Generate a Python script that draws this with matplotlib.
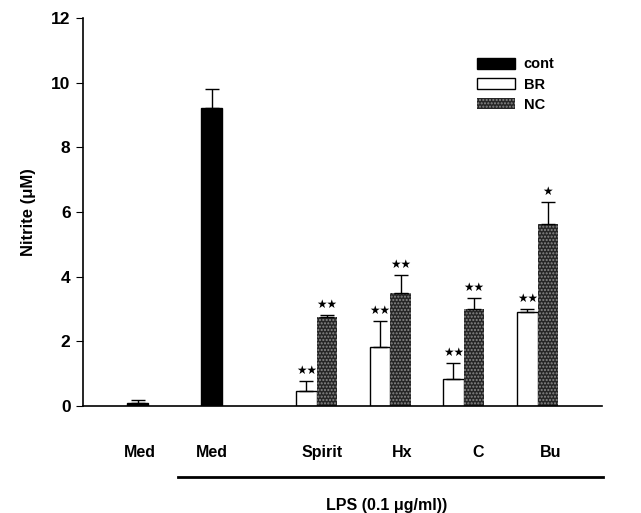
# Nitrite production: cont / BR / NC bars with upper error bars
import numpy as np
import matplotlib.pyplot as plt

plt.rcParams['font.family'] = ['Liberation Sans', 'DejaVu Sans']
plt.rcParams['font.weight'] = 'bold'
plt.rcParams['axes.labelweight'] = 'bold'

# Datos
groups = ['Med', 'Med', 'Spirit', 'Hx', 'C', 'Bu']
cont_vals = [0.1, 9.2]
cont_err = [0.1, 0.6]
br_vals = [0.45, 1.83, 0.83, 2.92]
br_err = [0.32, 0.80, 0.50, 0.08]
nc_vals = [2.75, 3.48, 2.99, 5.63]
nc_err = [0.06, 0.57, 0.36, 0.67]
br_sig = ['**', '**', '**', '**']
nc_sig = ['**', '**', '**', '*']

# posiciones de grupos (1 unidad ~ separacion entre grupos)
pos = np.array([0, 1, 2.42, 3.42, 4.41, 5.41])
w = 0.28

fig = plt.figure(figsize=(6.41, 5.13), dpi=100)
ax = fig.add_axes([0.1295, 0.2086, 0.8095, 0.7564])

ek = dict(capsize=5, elinewidth=1, capthick=1, ecolor='black')

ax.bar(pos[:2], cont_vals, w, color='black', edgecolor='black', label='cont',
       yerr=[np.zeros(2), cont_err], error_kw=ek)
ax.bar(pos[2:] - w / 2, br_vals, w, color='white', edgecolor='black', linewidth=1,
       label='BR', yerr=[np.zeros(4), br_err], error_kw=ek)
ax.bar(pos[2:] + w / 2, nc_vals, w, color='#262626', edgecolor='#8a8a8a', linewidth=0,
       hatch='.....', label='NC', yerr=[np.zeros(4), nc_err], error_kw=ek)

# estrellas de significancia
for x, v, e, s in zip(pos[2:] - w / 2, br_vals, br_err, br_sig):
    ax.text(x, v + e + 0.12, '★' * len(s), ha='center', va='bottom', fontsize=8.5,
            family='DejaVu Sans')
for x, v, e, s in zip(pos[2:] + w / 2, nc_vals, nc_err, nc_sig):
    ax.text(x, v + e + 0.12, '★' * len(s), ha='center', va='bottom', fontsize=8.5,
            family='DejaVu Sans')

ax.set_xlim(-0.74, 6.28)
ax.set_ylim(0, 12)
ax.set_yticks([0, 2, 4, 6, 8, 10, 12])
ax.tick_params(axis='y', direction='out', length=5, labelsize=12.5, pad=4)
ax.set_xticks(pos + np.array([0.03, 0, 0.08, 0.16, 0.19, 0.18]))
ax.set_xticklabels(groups, fontsize=11.5)
ax.tick_params(axis='x', length=0, pad=28)
for s in ['top', 'right']:
    ax.spines[s].set_visible(False)
ax.spines['left'].set_linewidth(1.2)
ax.spines['bottom'].set_linewidth(1.2)

ax.set_ylabel('Nitrite (\u03bcM)', fontsize=12, labelpad=11)

# linea LPS
trans = ax.get_xaxis_transform()
ax.plot([0.55, 6.29], [-0.183, -0.183], color='black', lw=2, transform=trans,
        clip_on=False)
ax.text(3.37, -0.257, 'LPS (0.1 \u03bcg/ml))', transform=trans, ha='center',
        va='center', fontsize=11.5)

ax.legend(loc='upper left', bbox_to_anchor=(0.734, 0.932), frameon=False,
          fontsize=10.5, handlelength=2.6, handleheight=0.85, labelspacing=0.42,
          handletextpad=0.6)

plt.savefig('out.png', dpi=100)
